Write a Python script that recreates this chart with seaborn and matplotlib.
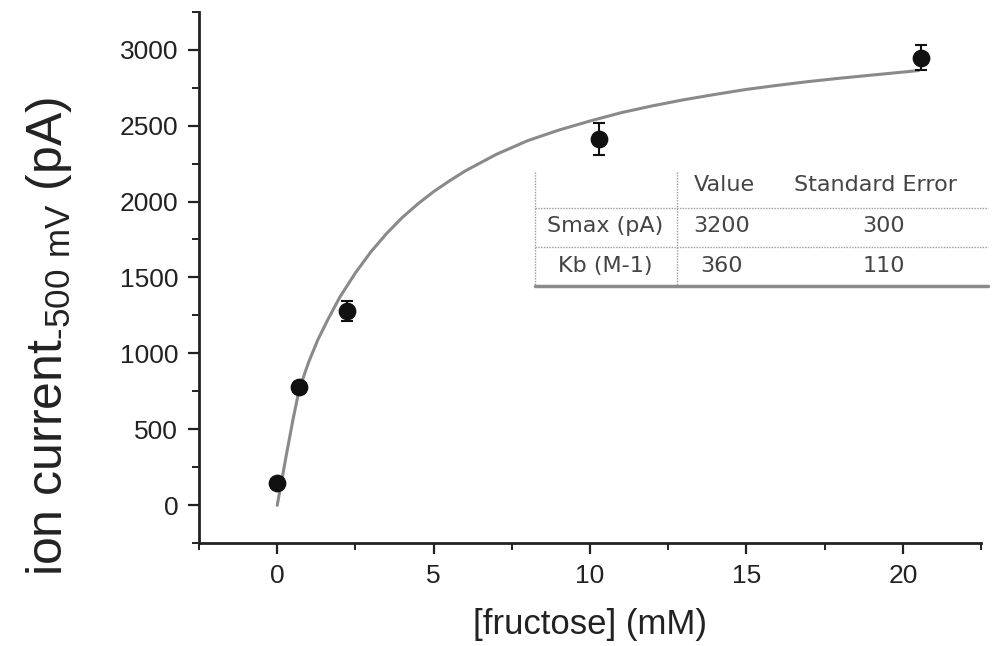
import numpy as np
import pandas as pd
import seaborn as sns
import matplotlib.pyplot as plt
from matplotlib.lines import Line2D
from matplotlib.ticker import MultipleLocator

# measured points
conc = [0.0, 0.7, 2.24, 10.3, 20.58]
current = [145, 780, 1282, 2412, 2948]
current_err = [15, 30, 66, 105, 83]

# fitted curve
fit_x = [0, 0.15, 0.3, 0.5, 0.7, 1.0, 1.3, 1.6, 2.0, 2.5, 3.0, 3.5, 4.0, 4.5, 5.0,
         5.5, 6.0, 7.0, 8.0, 9.0, 10.0, 11.0, 12.0, 13.0, 14.0, 15.0, 16.0, 17.0,
         18.0, 19.0, 20.0, 20.5]
fit_y = [0, 170, 340, 560, 760, 940, 1090, 1215, 1370, 1530, 1670, 1790, 1895, 1985, 2065,
         2135, 2200, 2310, 2400, 2470, 2530, 2585, 2630, 2670, 2705, 2738, 2765, 2790,
         2812, 2832, 2852, 2862]

# table in the plot
table_rows = ['Smax (pA)', 'Kb (M-1)']
table_value = ['3200', '360']
table_err = ['300', '110']

sns.set_style('ticks')
plt.rcParams['font.family'] = ['Liberation Sans', 'DejaVu Sans']
plt.rcParams['mathtext.fontset'] = 'custom'
plt.rcParams['mathtext.rm'] = 'Liberation Sans'

df_pts = pd.DataFrame({'conc': conc, 'current': current, 'err': current_err})
df_fit = pd.DataFrame({'x': fit_x, 'y': fit_y})

fig = plt.figure(figsize=(9.95, 6.46), dpi=100)
ax = fig.add_axes([0.2, 0.159, 0.786, 0.823])

sns.lineplot(data=df_fit, x='x', y='y', color='#8a8a8a', linewidth=2.2, ax=ax)
ax.errorbar(df_pts['conc'], df_pts['current'], yerr=df_pts['err'], fmt='none',
            ecolor='#111111', elinewidth=1.5, capsize=4, capthick=1.5, zorder=3)
sns.scatterplot(data=df_pts, x='conc', y='current', color='#111111', s=140,
                edgecolor='#111111', ax=ax, zorder=4)

ax.set_xlim(-2.5, 22.5)
ax.set_ylim(-250, 3250)
ax.xaxis.set_major_locator(MultipleLocator(5))
ax.xaxis.set_minor_locator(MultipleLocator(2.5))
ax.yaxis.set_major_locator(MultipleLocator(500))
ax.yaxis.set_minor_locator(MultipleLocator(250))
ax.set_yticks(range(0, 3001, 500))
ax.tick_params(which='major', direction='out', length=8, width=1.6, colors='#222222',
               labelsize=19, pad=7)
ax.tick_params(which='minor', direction='out', length=5, width=1.4, colors='#222222')
sns.despine(ax=ax)
for s in ['left', 'bottom']:
    ax.spines[s].set_linewidth(2)
    ax.spines[s].set_color('#222222')

ax.set_xlabel('[fructose] (mM)', fontsize=25, color='#222222', labelpad=14)
ax.set_ylabel(r'ion current$_{\mathregular{\text{-}500\ mV}}$ (pA)', fontsize=36,
              color='#222222')
ax.yaxis.set_label_coords(-0.16, 0.39)


def fx(px):
    return px / 995


def fy(py):
    return 1 - py / 646


# table frame
line_kw = dict(color='#9a9a9a', linewidth=1, linestyle=(0, (1, 1)))
fig.add_artist(Line2D([fx(535), fx(535)], [fy(172), fy(285)], **line_kw))
fig.add_artist(Line2D([fx(677), fx(677)], [fy(172), fy(285)], **line_kw))
fig.add_artist(Line2D([fx(535), fx(988)], [fy(208), fy(208)], **line_kw))
fig.add_artist(Line2D([fx(535), fx(988)], [fy(247), fy(247)], **line_kw))
fig.add_artist(Line2D([fx(535), fx(988)], [fy(286), fy(286)], color='#8a8a8a', linewidth=2.5))

tkw = dict(fontsize=16, color='#444444', ha='center', va='center', family='DejaVu Sans')
fig.text(fx(724), fy(185), 'Value', **tkw)
fig.text(fx(876), fy(185), 'Standard Error', **tkw)
for i, name in enumerate(table_rows):
    yy = fy(226 + 40 * i)
    fig.text(fx(605), yy, name, **tkw)
    fig.text(fx(722), yy, table_value[i], **tkw)
    fig.text(fx(884), yy, table_err[i], **tkw)

plt.savefig('out.png', dpi=100)
